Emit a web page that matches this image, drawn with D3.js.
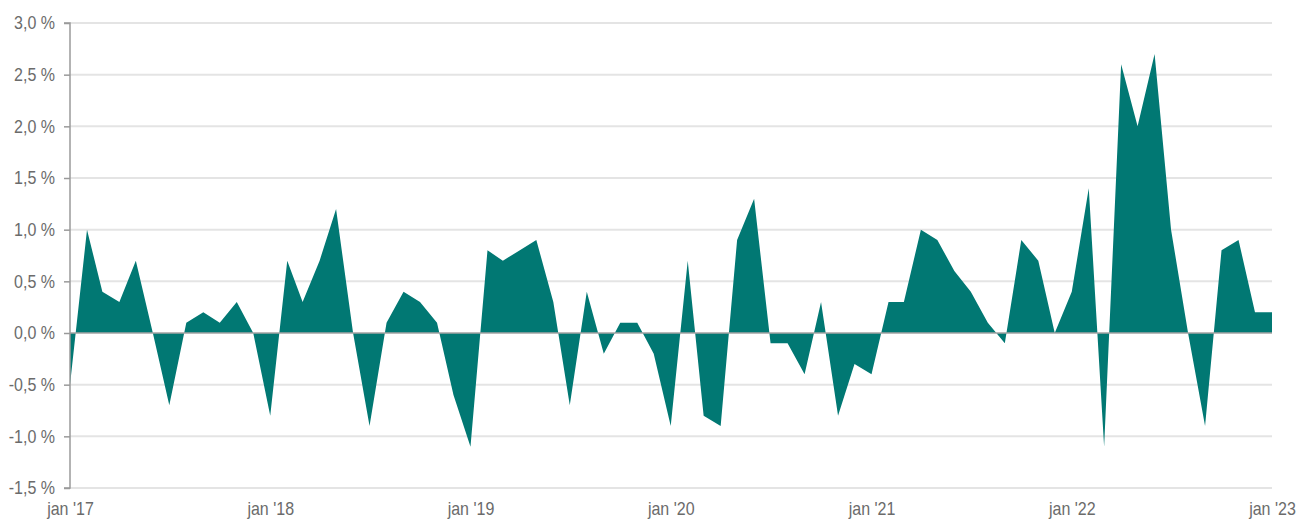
<!DOCTYPE html>
<html>
<head>
<meta charset="utf-8">
<script src="https://cdn.jsdelivr.net/npm/d3@7"></script>
<style>
  html, body { margin: 0; padding: 0; background: #fff; }
  svg { display: block; }
  text { font-family: "Liberation Sans", Arial, sans-serif; }
</style>
</head>
<body>
<svg id="chart" width="1312" height="519"></svg>
<script>
// Monthly change, jan 2017 .. jan 2023 (percent)
const startMonth = [2017, 0];
const values = [
  -0.5, 1.0, 0.4, 0.3, 0.7, 0.0, -0.7, 0.1, 0.2, 0.1, 0.3, 0.0,   // 2017
  -0.8, 0.7, 0.3, 0.7, 1.2, 0.0, -0.9, 0.1, 0.4, 0.3, 0.1, -0.6,  // 2018
  -1.1, 0.8, 0.7, 0.8, 0.9, 0.3, -0.7, 0.4, -0.2, 0.1, 0.1, -0.2, // 2019
  -0.9, 0.7, -0.8, -0.9, 0.9, 1.3, -0.1, -0.1, -0.4, 0.3, -0.8, -0.3, // 2020
  -0.4, 0.3, 0.3, 1.0, 0.9, 0.6, 0.4, 0.1, -0.1, 0.9, 0.7, 0.0,   // 2021
  0.4, 1.4, -1.1, 2.6, 2.0, 2.7, 1.0, 0.0, -0.9, 0.8, 0.9, 0.2,   // 2022
  0.2                                                            // jan 2023
];
const yTicks = [3.0, 2.5, 2.0, 1.5, 1.0, 0.5, 0.0, -0.5, -1.0, -1.5];
const xTickYears = [2017, 2018, 2019, 2020, 2021, 2022, 2023];

const dates = values.map((v, i) => new Date(startMonth[0], startMonth[1] + i, 1));
const data = values.map((v, i) => ({ date: dates[i], value: v }));

const svg = d3.select("#chart");
const mLeft = 70, mRight = 1272, mTop = 23, mBottom = 488;
const sx = 0.89; // horizontal text condensation

const x = d3.scaleTime()
  .domain([dates[0], dates[dates.length - 1]])
  .range([mLeft, mRight]);
const y = d3.scaleLinear().domain([-1.5, 3.0]).range([mBottom, mTop]);

const fmt = v => d3.format(".1f")(v).replace(".", ",").replace("−", "-") + " %";

// gridlines
svg.append("g")
  .selectAll("line")
  .data(yTicks.filter(t => t !== 0))
  .join("line")
  .attr("x1", mLeft).attr("x2", mRight)
  .attr("y1", d => y(d)).attr("y2", d => y(d))
  .attr("stroke", "#e4e4e4")
  .attr("stroke-width", 2);

// area
const area = d3.area()
  .x(d => x(d.date))
  .y0(y(0))
  .y1(d => y(d.value));
svg.append("path")
  .datum(data)
  .attr("d", area)
  .attr("fill", "#017873");

// zero line
svg.append("line")
  .attr("x1", mLeft).attr("x2", mRight)
  .attr("y1", y(0)).attr("y2", y(0))
  .attr("stroke", "#a3a3a3")
  .attr("stroke-width", 1.5);

// y axis
const yAxis = d3.axisLeft(y)
  .tickValues(yTicks)
  .tickSize(6)
  .tickPadding(9)
  .tickFormat(fmt);
const gy = svg.append("g")
  .attr("transform", `translate(${mLeft},0)`)
  .call(yAxis);
gy.select(".domain").attr("stroke", "#9a9a9a").attr("stroke-width", 1.5)
  .attr("d", `M-6,${y(3.0)}H0V${y(-1.5)}H-6`);
gy.selectAll(".tick line").attr("stroke", "#9a9a9a").attr("stroke-width", 1.5);
gy.selectAll(".tick text")
  .attr("fill", "#6b6b6b")
  .attr("font-size", "18px")
  .attr("x", -15 / sx)
  .attr("transform", `scale(${sx},1)`);

// x labels
const xAxis = d3.axisBottom(x)
  .tickValues(xTickYears.map(yr => new Date(yr, 0, 1)))
  .tickSize(0)
  .tickPadding(14)
  .tickFormat(d => "jan '" + String(d.getFullYear()).slice(2));
const gx = svg.append("g")
  .attr("transform", `translate(0,${mBottom})`)
  .call(xAxis);
gx.select(".domain").remove();
gx.selectAll(".tick text")
  .attr("fill", "#6b6b6b")
  .attr("font-size", "18px")
  .attr("transform", `scale(${sx},1)`);
</script>
</body>
</html>
